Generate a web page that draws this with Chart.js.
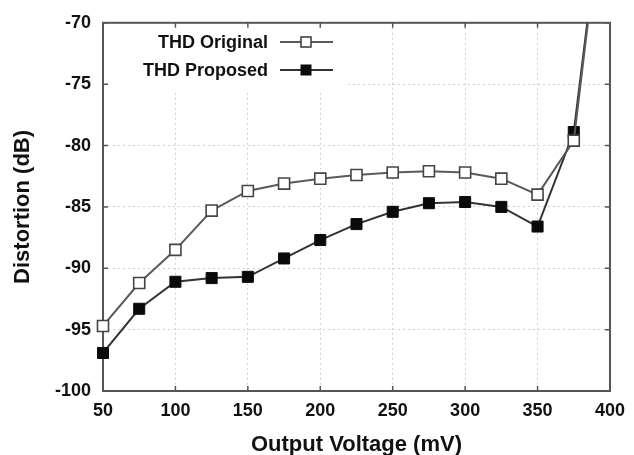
<!DOCTYPE html>
<html>
<head>
<meta charset="utf-8">
<title>THD vs output voltage</title>
<script src="https://cdn.jsdelivr.net/npm/chart.js@4/dist/chart.umd.min.js"></script>
<style>
  html, body { margin: 0; padding: 0; background: #fff; }
  #wrap { width: 634px; height: 455px; }
</style>
</head>
<body>
<div id="wrap"><canvas id="thdChart" width="634" height="455"></canvas></div>
<script>
// output voltage steps (mV); the last point sits past the top of the plot
const voltages = [50, 75, 100, 125, 150, 175, 200, 225, 250, 275, 300, 325, 350, 375, 400];
const thdOriginal = [-94.7, -91.2, -88.5, -85.3, -83.7, -83.1, -82.7, -82.4, -82.2, -82.1, -82.2, -82.7, -84.0, -79.6, -55];
const thdProposed = [-96.9, -93.3, -91.1, -90.8, -90.7, -89.2, -87.7, -86.4, -85.4, -84.7, -84.6, -85.0, -86.6, -78.9, -55];
const seriesNames = ["THD Original", "THD Proposed"];
const xTicks = [50, 100, 150, 200, 250, 300, 350, 400];
const yTicks = [-100, -95, -90, -85, -80, -75, -70];

const FONT = "'Liberation Sans', Arial, Helvetica, sans-serif";

function points(values) {
  return voltages.map((v, i) => ({ x: v, y: values[i] }));
}

// frame with inward tick marks on all four sides, plus the white legend panel
const framePlugin = {
  id: 'frame',
  beforeDatasetsDraw(chart) {
    const { ctx, chartArea: a, scales } = chart;
    ctx.save();
    // legend panel hides the grid behind it
    ctx.fillStyle = '#fff';
    ctx.fillRect(a.left + 1, a.top + 1, 242, 68);

    ctx.strokeStyle = '#555';
    ctx.lineWidth = 1.5;
    const len = 5;
    ctx.beginPath();
    xTicks.forEach(t => {
      const x = scales.x.getPixelForValue(t);
      ctx.moveTo(x, a.bottom); ctx.lineTo(x, a.bottom - len);
      ctx.moveTo(x, a.top); ctx.lineTo(x, a.top + len);
    });
    yTicks.forEach(t => {
      const y = scales.y.getPixelForValue(t);
      ctx.moveTo(a.left, y); ctx.lineTo(a.left + len, y);
      ctx.moveTo(a.right, y); ctx.lineTo(a.right - len, y);
    });
    ctx.stroke();

    ctx.lineWidth = 2;
    ctx.strokeRect(a.left, a.top, a.right - a.left, a.bottom - a.top);
    ctx.restore();
  }
};

// legend: right-aligned label, then a line sample with the marker in the middle
const legendPlugin = {
  id: 'thdLegend',
  afterDatasetsDraw(chart) {
    const { ctx } = chart;
    const rows = [42, 70];
    ctx.save();
    ctx.font = "bold 18px " + FONT;
    ctx.textAlign = 'right';
    ctx.textBaseline = 'middle';
    chart.data.datasets.forEach((ds, i) => {
      const y = rows[i];
      ctx.fillStyle = '#111';
      ctx.fillText(ds.label, 268, y + 1);
      ctx.strokeStyle = ds.borderColor;
      ctx.lineWidth = ds.borderWidth;
      ctx.beginPath();
      ctx.moveTo(280, y); ctx.lineTo(333, y);
      ctx.stroke();
      ctx.fillStyle = ds.pointBackgroundColor;
      ctx.strokeStyle = ds.pointBorderColor;
      ctx.lineWidth = ds.pointBorderWidth;
      const s = 10;
      ctx.fillRect(306 - s / 2, y - s / 2, s, s);
      ctx.strokeRect(306 - s / 2, y - s / 2, s, s);
    });
    ctx.restore();
  }
};

const ctx = document.getElementById('thdChart').getContext('2d');
const chart = new Chart(ctx, {
  type: 'line',
  data: {
    datasets: [{
      label: seriesNames[0],
      data: points(thdOriginal),
      borderColor: '#5a5a5a',
      borderWidth: 2,
      pointStyle: 'rect',
      pointRadius: 7.8,
      pointBackgroundColor: '#fff',
      pointBorderColor: '#444',
      pointBorderWidth: 1.6,
      tension: 0,
      clip: { left: 12, top: 0, right: 0, bottom: 12 }
    }, {
      label: seriesNames[1],
      data: points(thdProposed),
      borderColor: '#333',
      borderWidth: 2,
      pointStyle: 'rect',
      pointRadius: 7.8,
      pointBackgroundColor: '#0a0a0a',
      pointBorderColor: '#0a0a0a',
      pointBorderWidth: 1,
      tension: 0,
      clip: { left: 12, top: 0, right: 0, bottom: 12 }
    }]
  },
  options: {
    responsive: false,
    animation: false,
    layout: { padding: { top: 22, right: 19, left: 0, bottom: 0 } },
    plugins: {
      legend: { display: false },
      tooltip: { enabled: false }
    },
    scales: {
      x: {
        type: 'linear',
        min: 50,
        max: 400,
        afterBuildTicks: s => { s.ticks = xTicks.map(v => ({ value: v })); },
        afterFit: s => { s.height = 64; },
        grid: { color: '#d0d0d0', lineWidth: 1, drawTicks: false },
        border: { display: false, dash: [2, 3] },
        ticks: { padding: 9, color: '#111', font: { family: FONT, size: 18, weight: 'bold' }, maxRotation: 0 },
        title: {
          display: true,
          text: 'Output Voltage (mV)',
          color: '#111',
          font: { family: FONT, size: 22, weight: 'bold', lineHeight: 1 },
          padding: { top: 0, bottom: -1 }
        }
      },
      y: {
        min: -100,
        max: -70,
        afterBuildTicks: s => { s.ticks = yTicks.map(v => ({ value: v })); },
        afterFit: s => { s.width = 103; },
        grid: { color: '#d0d0d0', lineWidth: 1, drawTicks: false },
        border: { display: false, dash: [2, 3] },
        ticks: { padding: 12, color: '#111', font: { family: FONT, size: 18, weight: 'bold' } },
        title: {
          display: true,
          text: 'Distortion (dB)',
          color: '#111',
          font: { family: FONT, size: 22, weight: 'bold', lineHeight: 1 },
          padding: { top: 12, bottom: 0 }
        }
      }
    }
  },
  plugins: [framePlugin, legendPlugin]
});
</script>
</body>
</html>
